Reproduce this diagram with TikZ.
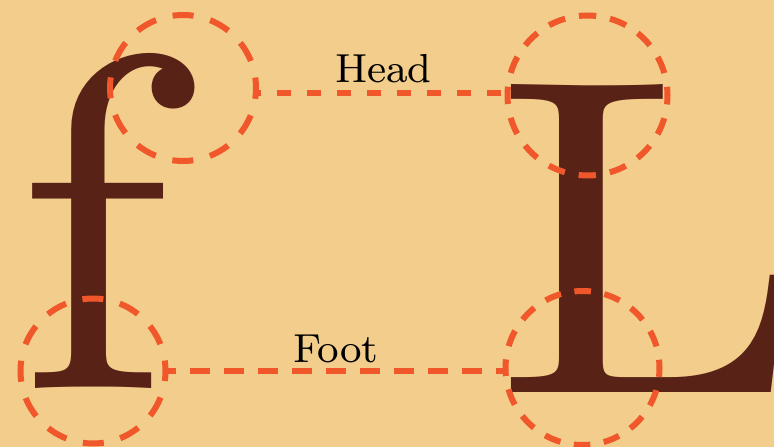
\documentclass[tikz,border=0pt]{standalone}
\usepackage{fontspec}
\newfontfamily\lmeight{lmroman8-regular.otf}
\definecolor{bgtan}{HTML}{F2CD8B}
\definecolor{glyphbrown}{HTML}{582216}
\definecolor{markorange}{HTML}{F0572B}
\tikzset{
  glyph/.style={inner sep=0pt, outer sep=0pt, text=glyphbrown},
  ring/.style={circle, draw=markorange, line width=6pt, inner sep=0pt, outer sep=0pt},
  link/.style={draw=markorange, line width=6pt},
  lbl/.style={inner sep=0pt, text=black, font=\lmeight\fontsize{40.5}{46}\selectfont}
}
\begin{document}
\begin{tikzpicture}[x=1pt,y=-1pt]
\fill[bgtan] (0,0) rectangle (774,447);
\useasboundingbox (0,0) rectangle (774,447);
\node[glyph, anchor=base west, font=\lmeight\fontsize{476}{476}\selectfont] (f) at (15,388) {f};
\node[glyph, anchor=base west, font=\lmeight\fontsize{451}{451}\selectfont] (L) at (490,392) {\scalebox{1.055}[1]{L}};
\node[ring, minimum size=146pt, dash pattern=on 21pt off 17.2pt, dash phase=10.5pt] (fh) at (183,88) {};
\node[ring, minimum size=145pt, dash pattern=on 21pt off 17pt, dash phase=10.5pt] (ff) at (93,371) {};
\node[ring, minimum size=160pt, dash pattern=on 17.3pt off 14.1pt, dash phase=8.65pt] (lh) at (587.5,95.5) {};
\node[ring, minimum size=154pt, dash pattern=on 16.6pt off 13.6pt, dash phase=8.3pt] (lf) at (582.5,368) {};
\coordinate (hs) at ([yshift=-4.5pt]fh.east);
\draw[link, dash pattern=on 14pt off 16pt, dash phase=9pt] (hs) -- (hs -| lh.west);
\draw[link, dash pattern=on 20pt off 14pt, dash phase=10pt] (ff.east) -- (ff.east -| lf.west);
\node[lbl, anchor=base] (head) at (383.5,82) {Head};
\node[lbl, anchor=base] (foot) at (336,362) {Foot};
\end{tikzpicture}
\end{document}
